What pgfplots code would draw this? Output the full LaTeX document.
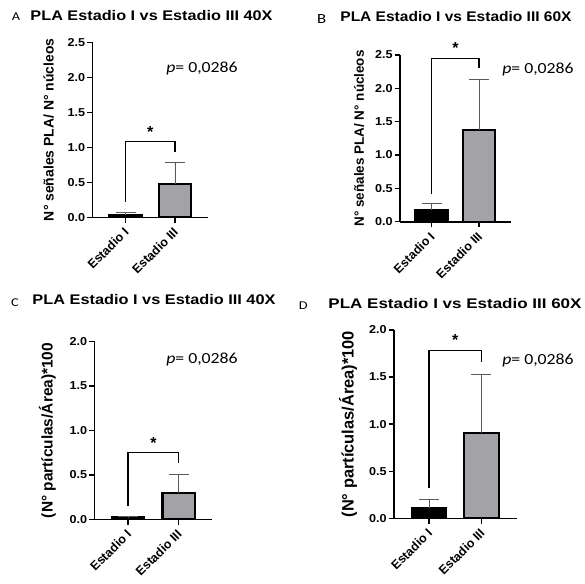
\documentclass[border=0pt]{standalone}
\usepackage{pgfplots}
\pgfplotsset{compat=1.18}
\usepackage{fontspec}
\setmainfont{Liberation Sans}
\newfontfamily\calfont{Carlito}

\definecolor{barGray}{RGB}{162,162,167}
\definecolor{errGray}{RGB}{90,90,90}

\pgfplotsset{
  panel/.style={
    scale only axis, anchor=south west,
    axis x line*=bottom, axis y line*=left,
    axis line style={line width=1.6bp, black},
    tick style={line width=1.4bp, black},
    major tick length=5.5bp, tick align=outside,
    xmin=-0.667, xmax=1.667, ymin=0, clip=false,
    xtick={0,1}, xticklabels={Estadio I, Estadio III},
    xticklabel style={yshift=-6bp, xshift=2bp, rotate=45, anchor=east, inner sep=1.5bp,
      font=\bfseries\fontsize{12.5}{13}\selectfont},
    yticklabel style={font=\bfseries\fontsize{11.5}{12}\selectfont,
      xscale=1.1, inner sep=1.5bp,
      /pgf/number format/fixed, /pgf/number format/fixed zerofill,
      /pgf/number format/precision=1,
      /pgf/number format/assume math mode=true},
    ylabel style={anchor=center, font=\bfseries\fontsize{14}{14}\selectfont},
  },
  stageI/.style={ybar, bar shift=0pt, fill=black, draw=black, line width=2.2bp,
    error bars/.cd, y dir=plus, y explicit,
    error bar style={line width=0.9bp, draw=errGray},
    error mark options={rotate=90, line width=0.9bp, mark size=10bp, draw=errGray}},
  stageIII/.style={ybar, bar shift=0pt, fill=barGray, draw=black, line width=2.2bp,
    error bars/.cd, y dir=plus, y explicit,
    error bar style={line width=0.9bp, draw=errGray},
    error mark options={rotate=90, line width=0.9bp, mark size=10bp, draw=errGray}},
}

\tikzset{
  bracket/.style={line width=1.4bp, black},
  star/.style={font=\bfseries\fontsize{16}{16}\selectfont},
  pval/.style={font=\calfont\fontsize{15.5}{16}\selectfont, xscale=1.15},
  ptitle/.style={font=\bfseries\fontsize{14}{14}\selectfont},
  pletter/.style={font=\calfont\fontsize{12}{12}\selectfont, xscale=1.2},
}

\begin{document}
\begin{tikzpicture}
\path[use as bounding box] (0,0) rectangle (585bp,-584bp);

% ---------- A: signals per nucleus, 40X ----------
\node[ptitle, xscale=1.165] at (151.5bp,-16bp) {PLA Estadio I vs Estadio III 40X};
\node[pletter] at (16bp,-17bp) {A};
\begin{axis}[panel, at={(92.5bp,-217.3bp)}, width=115.5bp, height=175bp,
  ymax=2.5, ytick={0,0.5,...,2.5}, bar width=0.65,
  ylabel={N° señales PLA/ N° núcleos},
  ylabel style={at={(axis description cs:-0.38,0.5)}}]
  \addplot[stageI] coordinates {(0,0.03) +- (0,0.036)};
  \addplot[stageIII] coordinates {(1,0.48) +- (0,0.31)};
  \draw[bracket] (axis cs:0,0.22) -- (axis cs:0,1.08) -- (axis cs:1,1.08) -- (axis cs:1,0.94);
  \node[star] at (axis cs:0.5,1.22) {*};
\end{axis}
\node[pval] at (202bp,-68.5bp) {\textit{p}= 0,0286};

% ---------- B: signals per nucleus, 60X ----------
\node[ptitle, xscale=1.113] at (456bp,-16.7bp) {PLA Estadio I vs Estadio III 60X};
\node[pletter, font=\calfont\fontsize{14}{14}\selectfont] at (321.7bp,-19bp) {B};
\begin{axis}[panel, at={(400bp,-221.7bp)}, width=110.8bp, height=166.7bp,
  ymax=2.5, ytick={0,0.5,...,2.5}, bar width=0.68,
  ylabel={N° señales PLA/ N° núcleos},
  ylabel style={at={(axis description cs:-0.37,0.5)}, font=\bfseries\fontsize{13.5}{14}\selectfont}]
  \addplot[stageI] coordinates {(0,0.17) +- (0,0.10)};
  \addplot[stageIII] coordinates {(1,1.38) +- (0,0.76)};
  \draw[bracket] (axis cs:0,0.42) -- (axis cs:0,2.45) -- (axis cs:1,2.45) -- (axis cs:1,2.30);
  \node[star] at (axis cs:0.5,2.6) {*};
\end{axis}
\node[pval] at (538bp,-69bp) {\textit{p}= 0,0286};

% ---------- C: particles per area, 40X ----------
\node[ptitle, xscale=1.17] at (154bp,-300bp) {PLA Estadio I vs Estadio III 40X};
\node[pletter] at (15bp,-302.3bp) {C};
\begin{axis}[panel, at={(94.5bp,-519.3bp)}, width=117.8bp, height=177.6bp,
  ymax=2.0, ytick={0,0.5,...,2.0}, bar width=0.64,
  ylabel={(N° partículas/Área)*100},
  ylabel style={at={(axis description cs:-0.40,0.5)}, font=\bfseries\fontsize{15.5}{16}\selectfont}]
  \addplot[stageI] coordinates {(0,0.02) +- (0,0.012)};
  \addplot[stageIII] coordinates {(1,0.30) +- (0,0.21)};
  \draw[bracket] (axis cs:0,0.15) -- (axis cs:0,0.75) -- (axis cs:1,0.75) -- (axis cs:1,0.63);
  \node[star] at (axis cs:0.5,0.86) {*};
\end{axis}
\node[pval] at (202bp,-359bp) {\textit{p}= 0,0286};

% ---------- D: particles per area, 60X ----------
\node[ptitle, xscale=1.218] at (455bp,-303.3bp) {PLA Estadio I vs Estadio III 60X};
\node[pletter] at (303.3bp,-305.3bp) {D};
\begin{axis}[panel, at={(394bp,-518.3bp)}, width=122.5bp, height=188.3bp,
  ymax=2.0, ytick={0,0.5,...,2.0}, bar width=0.66,
  ylabel={(N° partículas/Área)*100},
  ylabel style={at={(axis description cs:-0.375,0.5)}, font=\bfseries\fontsize{16.5}{17}\selectfont}]
  \addplot[stageI] coordinates {(0,0.11) +- (0,0.09)};
  \addplot[stageIII] coordinates {(1,0.91) +- (0,0.62)};
  \draw[bracket] (axis cs:0,0.32) -- (axis cs:0,1.78) -- (axis cs:1,1.78) -- (axis cs:1,1.66);
  \node[star] at (axis cs:0.5,1.89) {*};
\end{axis}
\node[pval] at (538bp,-360bp) {\textit{p}= 0,0286};
\end{tikzpicture}
\end{document}
